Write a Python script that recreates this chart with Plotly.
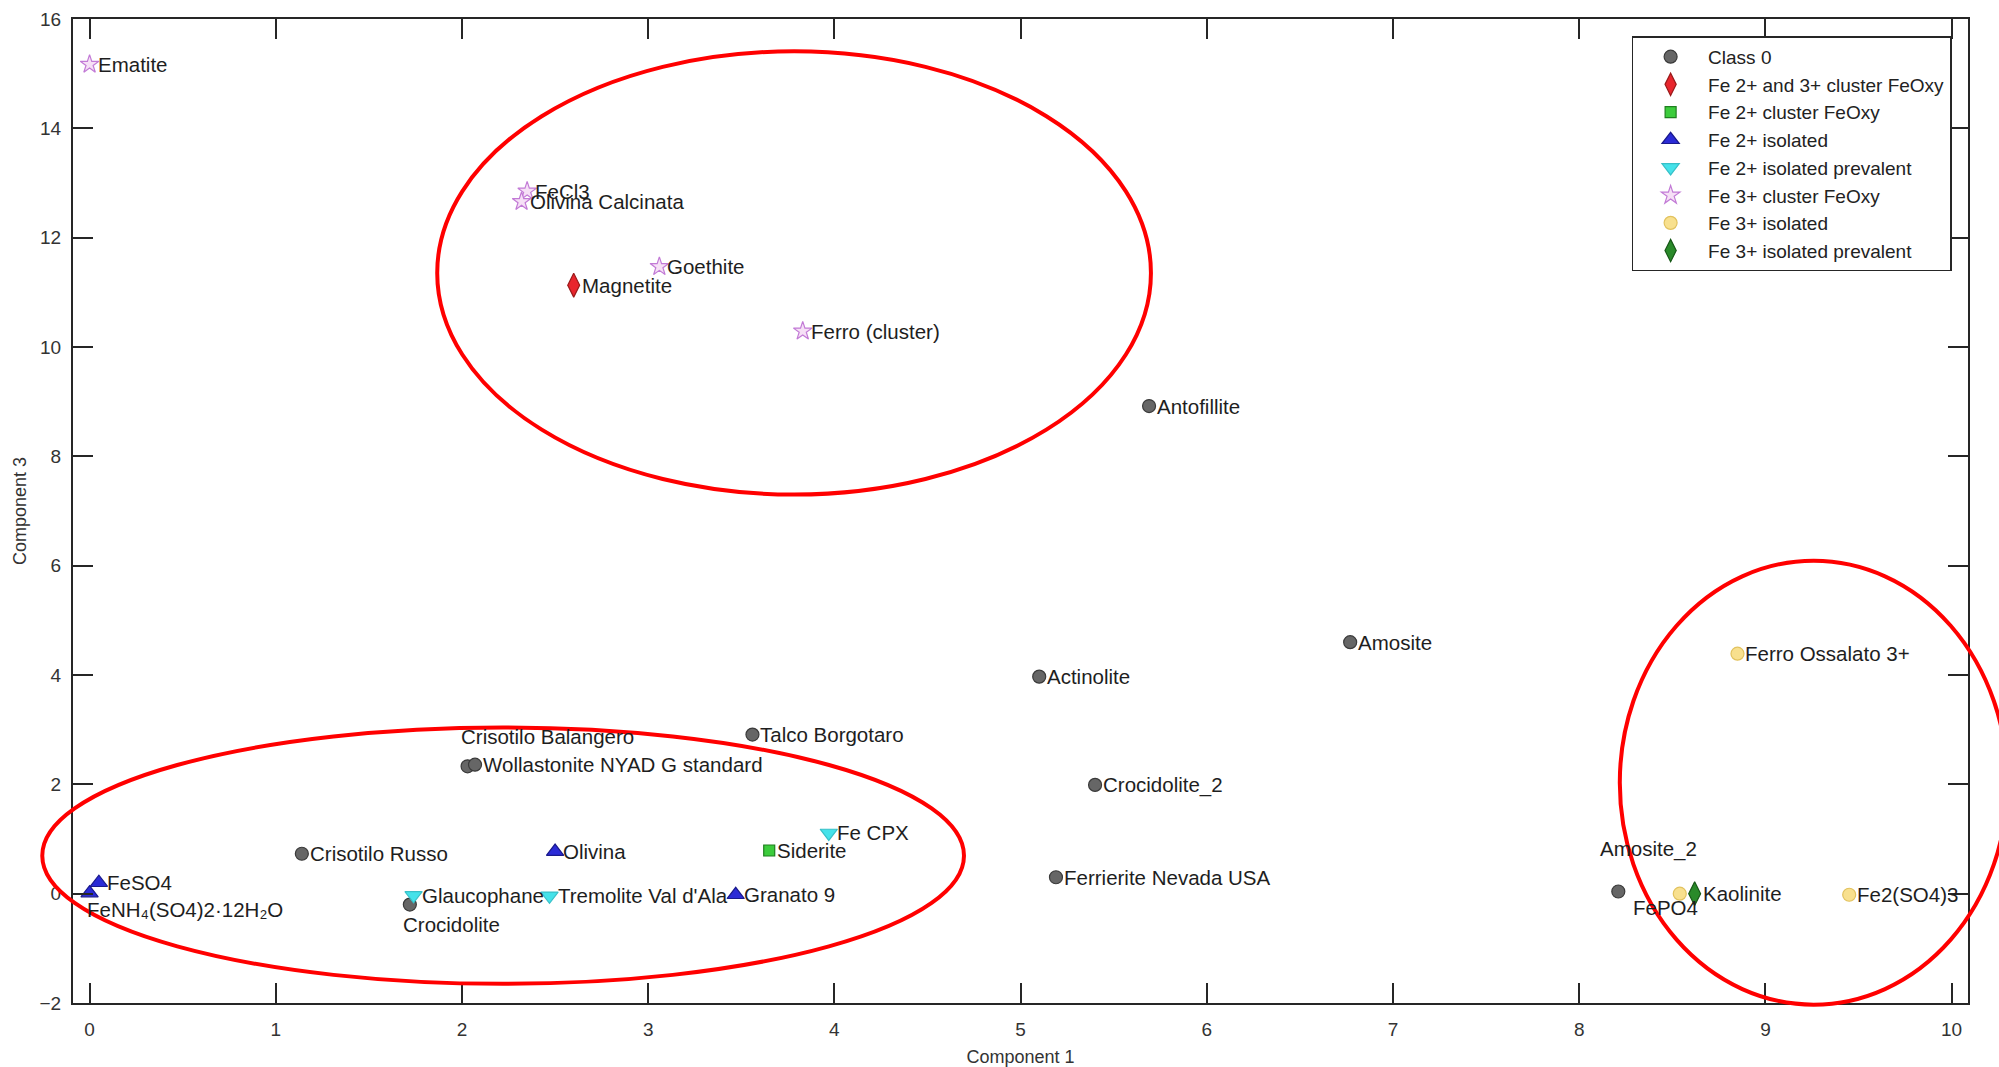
import plotly.graph_objects as go

# Sample scores on the first and third principal components
names = [
    "Ematite", "FeCl3", "Olivina Calcinata", "Goethite", "Magnetite", "Ferro (cluster)",
    "Antofillite", "Amosite", "Ferro Ossalato 3+", "Actinolite", "Talco Borgotaro",
    "Crisotilo Balangero", "Wollastonite NYAD G standard", "Crocidolite_2", "Fe CPX",
    "Siderite", "Olivina", "Crisotilo Russo", "Ferrierite Nevada USA", "FeSO4",
    "FeNH₄(SO4)2·12H₂O", "Glaucophane", "Crocidolite", "Tremolite Val d'Ala", "Granato 9",
    "Amosite_2", "FePO4", "Kaolinite", "Fe2(SO4)3",
]
comp1 = [
    0.00, 2.35, 2.32, 3.06, 2.60, 3.83,
    5.69, 6.77, 8.85, 5.10, 3.56,
    2.03, 2.07, 5.40, 3.97,
    3.65, 2.50, 1.14, 5.19, 0.05,
    0.00, 1.74, 1.72, 2.47, 3.47,
    8.21, 8.54, 8.62, 9.45,
]
comp3 = [
    15.17, 12.85, 12.66, 11.47, 11.13, 10.29,
    8.92, 4.60, 4.39, 3.97, 2.91,
    2.33, 2.36, 1.99, 1.11,
    0.79, 0.77, 0.73, 0.30, 0.20,
    0.01, -0.03, -0.20, -0.04, -0.02,
    0.04, 0.00, 0.00, -0.02,
]
groups = [
    "Fe 3+ cluster FeOxy", "Fe 3+ cluster FeOxy", "Fe 3+ cluster FeOxy", "Fe 3+ cluster FeOxy",
    "Fe 2+ and 3+ cluster FeOxy", "Fe 3+ cluster FeOxy",
    "Class 0", "Class 0", "Fe 3+ isolated", "Class 0", "Class 0",
    "Class 0", "Class 0", "Class 0", "Fe 2+ isolated prevalent",
    "Fe 2+ cluster FeOxy", "Fe 2+ isolated", "Class 0", "Class 0", "Fe 2+ isolated",
    "Fe 2+ isolated", "Fe 2+ isolated prevalent", "Class 0", "Fe 2+ isolated prevalent", "Fe 2+ isolated",
    "Class 0", "Fe 3+ isolated", "Fe 3+ isolated prevalent", "Fe 3+ isolated",
]
class_order = [
    "Class 0", "Fe 2+ and 3+ cluster FeOxy", "Fe 2+ cluster FeOxy", "Fe 2+ isolated",
    "Fe 2+ isolated prevalent", "Fe 3+ cluster FeOxy", "Fe 3+ isolated", "Fe 3+ isolated prevalent",
]
x_ticks = [0, 1, 2, 3, 4, 5, 6, 7, 8, 9, 10]
y_ticks = [-2, 0, 2, 4, 6, 8, 10, 12, 14, 16]

# Marker look for each class: symbol, fill, outline, size
styles = {
    "Class 0": ("circle", "#666666", "#3a3a3a", 13),
    "Fe 2+ and 3+ cluster FeOxy": ("diamond-tall", "#e8252d", "#9a1a1a", 17),
    "Fe 2+ cluster FeOxy": ("square", "#3ccc3c", "#1f7f1f", 11),
    "Fe 2+ isolated": ("triangle-up", "#2b2bd6", "#1a1a8c", 15),
    "Fe 2+ isolated prevalent": ("triangle-down", "#45e2ea", "#38c0c8", 15),
    "Fe 3+ cluster FeOxy": ("star", "#f6e0f6", "#c27ad6", 14),
    "Fe 3+ isolated": ("circle", "#f8e08e", "#e2c25e", 13),
    "Fe 3+ isolated prevalent": ("diamond-tall", "#2a8a2a", "#175817", 17),
}

# Label placement (pixel shifts) for the few labels not written to the right of their point
label_shift = {
    "Crisotilo Balangero": (-9, 30),
    "FeNH₄(SO4)2·12H₂O": (-5, -16),
    "Crocidolite": (-9, -20),
    "Amosite_2": (-20, 42),
    "FePO4": (-49, -14),
}

x_range = [-0.089, 10.088]
y_range = [-2, 16]
font_family = "Liberation Sans, Arial, sans-serif"

fig = go.Figure()
for cls in class_order:
    idx = [i for i, g in enumerate(groups) if g == cls]
    sym, fill, edge, size = styles[cls]
    fig.add_trace(go.Scatter(
        x=[comp1[i] for i in idx],
        y=[comp3[i] for i in idx],
        mode="markers",
        name=cls,
        marker=dict(symbol=sym, color=fill, size=size, line=dict(color=edge, width=1.2)),
        hovertext=[names[i] for i in idx],
    ))

annotations = []
for n, xv, yv in zip(names, comp1, comp3):
    dx, dy = label_shift.get(n, (6, 0))
    annotations.append(dict(
        x=xv, y=yv, xref="x", yref="y", text=n, showarrow=False,
        xanchor="left", yanchor="middle", xshift=dx, yshift=dy,
        font=dict(family=font_family, size=20.5, color="#1e1e1e"),
    ))


def px_x(v):
    return (v - x_range[0]) / (x_range[1] - x_range[0])


def px_y(v):
    return (v - y_range[0]) / (y_range[1] - y_range[0])


# Hand-drawn red ovals grouping the clusters (data units, drawn unclipped)
ovals = [
    (1.867, 5.700, 7.30, 15.41),
    (-0.254, 4.696, -1.65, 3.04),
    (8.218, 10.30, -2.03, 6.09),
]
shapes = [
    dict(type="circle", xref="paper", yref="paper",
         x0=px_x(a), x1=px_x(b), y0=px_y(c), y1=px_y(d),
         line=dict(color="#ff0000", width=4), layer="above")
    for a, b, c, d in ovals
]

axis_common = dict(
    showgrid=False, zeroline=False, showline=True, linecolor="#262626", linewidth=2,
    mirror="ticks", ticks="inside", ticklen=20, tickwidth=1.5, tickcolor="#262626",
    tickfont=dict(family=font_family, size=19, color="#333333"), automargin=False,
)

fig.update_layout(
    width=1999, height=1067,
    margin=dict(l=73, r=31, t=19, b=64),
    paper_bgcolor="white", plot_bgcolor="white",
    xaxis=dict(range=x_range, tickvals=x_ticks, ticklabelstandoff=8,
               title=dict(text="Component 1", standoff=14,
                          font=dict(family=font_family, size=18, color="#333333")),
               **axis_common),
    yaxis=dict(range=y_range, tickvals=y_ticks, ticklabelstandoff=6,
               title=dict(text="Component 3", standoff=8,
                          font=dict(family=font_family, size=18, color="#333333")),
               **axis_common),
    legend=dict(
        x=px_x(10), y=0.9824, xanchor="right", yanchor="top",
        bgcolor="white", bordercolor="#262626", borderwidth=1.5,
        itemwidth=65, tracegroupgap=0,
        font=dict(family=font_family, size=19, color="#222222"),
    ),
    annotations=annotations,
    shapes=shapes,
    showlegend=True,
)

fig.write_html("out.html")
